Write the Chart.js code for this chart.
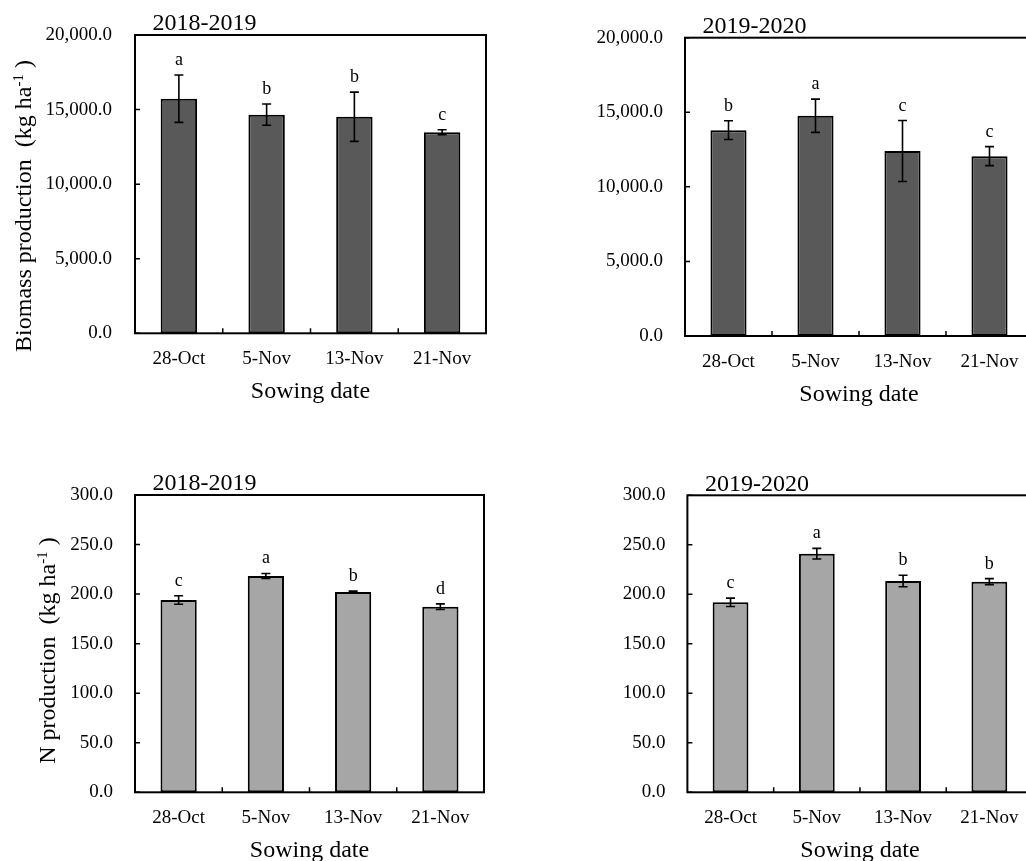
<!DOCTYPE html>
<html>
<head>
<meta charset="utf-8">
<script src="https://cdn.jsdelivr.net/npm/chart.js@4.4.1/dist/chart.umd.min.js"></script>
<style>
  html, body { margin: 0; padding: 0; background: #fff; overflow: hidden; width: 1026px; height: 861px; }
  canvas { position: absolute; display: block; }
</style>
</head>
<body>
<canvas id="biomassA" width="513" height="430" style="left:0;top:0"></canvas>
<canvas id="biomassB" width="530" height="430" style="left:513px;top:0"></canvas>
<canvas id="nitrogenA" width="513" height="431" style="left:0;top:430px"></canvas>
<canvas id="nitrogenB" width="530" height="431" style="left:513px;top:430px"></canvas>
<script>
// Sowing dates on the x axis
const sowingDates = ['28-Oct', '5-Nov', '13-Nov', '21-Nov'];

// Biomass production (kg ha-1): means, standard errors, significance letters
const biomass1819 = [15730, 14660, 14520, 13480];
const biomass1819Err = [1590, 715, 1650, 170];
const biomass1819Sig = ['a', 'b', 'b', 'c'];

const biomass1920 = [13800, 14770, 12400, 12060];
const biomass1920Err = [630, 1115, 2045, 635];
const biomass1920Sig = ['b', 'a', 'c', 'c'];

// N production (kg ha-1)
const nitrogen1819 = [194.0, 218.3, 202.0, 187.3];
const nitrogen1819Err = [4.3, 2.5, 1.0, 2.8];
const nitrogen1819Sig = ['c', 'a', 'b', 'd'];

const nitrogen1920 = [191.9, 241.0, 213.5, 212.8];
const nitrogen1920Err = [4.2, 5.4, 5.8, 3.0];
const nitrogen1920Sig = ['c', 'a', 'b', 'b'];

// Value-axis tick values
const biomassTicks = [0, 5000, 10000, 15000, 20000];
const nitrogenTicks = [0, 50, 100, 150, 200, 250, 300];

const SERIF = "'Liberation Serif', 'Times New Roman', serif";
Chart.defaults.font.family = SERIF;
Chart.defaults.color = '#000';

function fmt(v) {
  return Number(v).toLocaleString('en-US', { minimumFractionDigits: 1, maximumFractionDigits: 1 });
}

// Frame, inward tick marks, error bars, significance letters and titles
const panelDecor = {
  id: 'panelDecor',
  afterDatasetsDraw(chart, args, o) {
    const { ctx, chartArea: a, scales: { x, y } } = chart;
    ctx.save();
    ctx.strokeStyle = '#000';
    ctx.fillStyle = '#000';

    ctx.lineWidth = 2;
    ctx.strokeRect(a.left, a.top, a.right - a.left, a.bottom - a.top);

    ctx.lineWidth = 1.5;
    ctx.beginPath();
    for (let i = 1; i < x.ticks.length; i++) {
      const px = (x.getPixelForValue(i - 1) + x.getPixelForValue(i)) / 2;
      ctx.moveTo(px, a.bottom);
      ctx.lineTo(px, a.bottom - 5);
    }
    y.ticks.forEach(t => {
      const py = y.getPixelForValue(t.value);
      ctx.moveTo(a.left, py);
      ctx.lineTo(a.left + 5, py);
    });
    ctx.stroke();

    const meta = chart.getDatasetMeta(0);
    const values = chart.data.datasets[0].data;
    ctx.lineWidth = 1.6;
    ctx.font = '18px ' + SERIF;
    ctx.textAlign = 'center';
    ctx.textBaseline = 'alphabetic';
    meta.data.forEach((bar, i) => {
      const v = values[i], e = o.errors[i];
      const top = y.getPixelForValue(v + e);
      const bot = y.getPixelForValue(v - e);
      ctx.beginPath();
      ctx.moveTo(bar.x, top); ctx.lineTo(bar.x, bot);
      ctx.moveTo(bar.x - 4.5, top); ctx.lineTo(bar.x + 4.5, top);
      ctx.moveTo(bar.x - 4.5, bot); ctx.lineTo(bar.x + 4.5, bot);
      ctx.stroke();
      ctx.fillText(o.letters[i], bar.x, top - 10);
    });

    ctx.font = '24px ' + SERIF;
    ctx.textAlign = 'left';
    ctx.fillText(o.title, a.left + 17.5, a.top - 4.7);

    ctx.textAlign = 'center';
    ctx.fillText('Sowing date', (a.left + a.right) / 2, a.bottom + 64.7);

    if (o.yTitle) {
      const mainFont = '24px ' + SERIF, supFont = '15px ' + SERIF;
      ctx.font = mainFont;
      const w1 = ctx.measureText(o.yTitle[0]).width;
      const w3 = ctx.measureText(o.yTitle[2]).width;
      ctx.font = supFont;
      const w2 = ctx.measureText(o.yTitle[1]).width;
      ctx.translate(o.yTitleX, o.yTitleY);
      ctx.rotate(-Math.PI / 2);
      ctx.textAlign = 'left';
      let sx = -(w1 + w2 + w3) / 2;
      ctx.font = mainFont;
      ctx.fillText(o.yTitle[0], sx, 0); sx += w1;
      ctx.font = supFont;
      ctx.fillText(o.yTitle[1], sx, -8); sx += w2;
      ctx.font = mainFont;
      ctx.fillText(o.yTitle[2], sx, 0);
    }
    ctx.restore();
  }
};

function makePanel(id, cfg) {
  return new Chart(document.getElementById(id), {
    type: 'bar',
    data: {
      labels: sowingDates,
      datasets: [{
        data: cfg.values,
        backgroundColor: cfg.fill,
        borderColor: '#000',
        borderWidth: 2,
        borderSkipped: false,
        barPercentage: 0.415,
        categoryPercentage: 1
      }]
    },
    options: {
      responsive: false,
      animation: false,
      events: [],
      layout: { padding: cfg.padding },
      plugins: {
        legend: { display: false },
        tooltip: { enabled: false },
        panelDecor: {
          title: cfg.title,
          errors: cfg.errors,
          letters: cfg.letters,
          yTitle: cfg.yTitle,
          yTitleX: cfg.yTitleX,
          yTitleY: cfg.yTitleY
        }
      },
      scales: {
        x: {
          grid: { display: false, drawTicks: false },
          border: { display: false },
          ticks: { font: { size: 19 }, padding: 14.5, maxRotation: 0, autoSkip: false },
          afterFit: s => { s.height = cfg.xHeight; }
        },
        y: {
          min: 0,
          max: cfg.ticks[cfg.ticks.length - 1],
          afterBuildTicks: s => { s.ticks = cfg.ticks.map(v => ({ value: v })); },
          grid: { display: false, drawTicks: false },
          border: { display: false },
          ticks: { font: { size: 19 }, padding: cfg.labelGap, callback: v => fmt(v) },
          afterFit: s => { s.width = cfg.yWidth; }
        }
      }
    },
    plugins: [panelDecor]
  });
}

makePanel('biomassA', {
  values: biomass1819, errors: biomass1819Err, letters: biomass1819Sig,
  fill: '#595959', ticks: biomassTicks, title: '2018-2019',
  padding: { top: 35, left: 0, right: 27, bottom: 0 },
  yWidth: 135, xHeight: 96.7, labelGap: 23,
  yTitle: ['Biomass production  (kg ha', '-1', ' )'], yTitleX: 31, yTitleY: 206
});

makePanel('biomassB', {
  values: biomass1920, errors: biomass1920Err, letters: biomass1920Sig,
  fill: '#595959', ticks: biomassTicks, title: '2019-2020',
  padding: { top: 37.7, left: 0, right: 10, bottom: 0 },
  yWidth: 172, xHeight: 94, labelGap: 22
});

makePanel('nitrogenA', {
  values: nitrogen1819, errors: nitrogen1819Err, letters: nitrogen1819Sig,
  fill: '#a6a6a6', ticks: nitrogenTicks, title: '2018-2019',
  padding: { top: 65, left: 0, right: 29, bottom: 0 },
  yWidth: 135, xHeight: 68.7, labelGap: 22,
  yTitle: ['N production  (kg ha', '-1', ' )'], yTitleX: 55, yTitleY: 220.5
});

makePanel('nitrogenB', {
  values: nitrogen1920, errors: nitrogen1920Err, letters: nitrogen1920Sig,
  fill: '#a6a6a6', ticks: nitrogenTicks, title: '2019-2020',
  padding: { top: 65.3, left: 0, right: 10.5, bottom: 0 },
  yWidth: 174.4, xHeight: 68.7, labelGap: 22
});
</script>
</body>
</html>
